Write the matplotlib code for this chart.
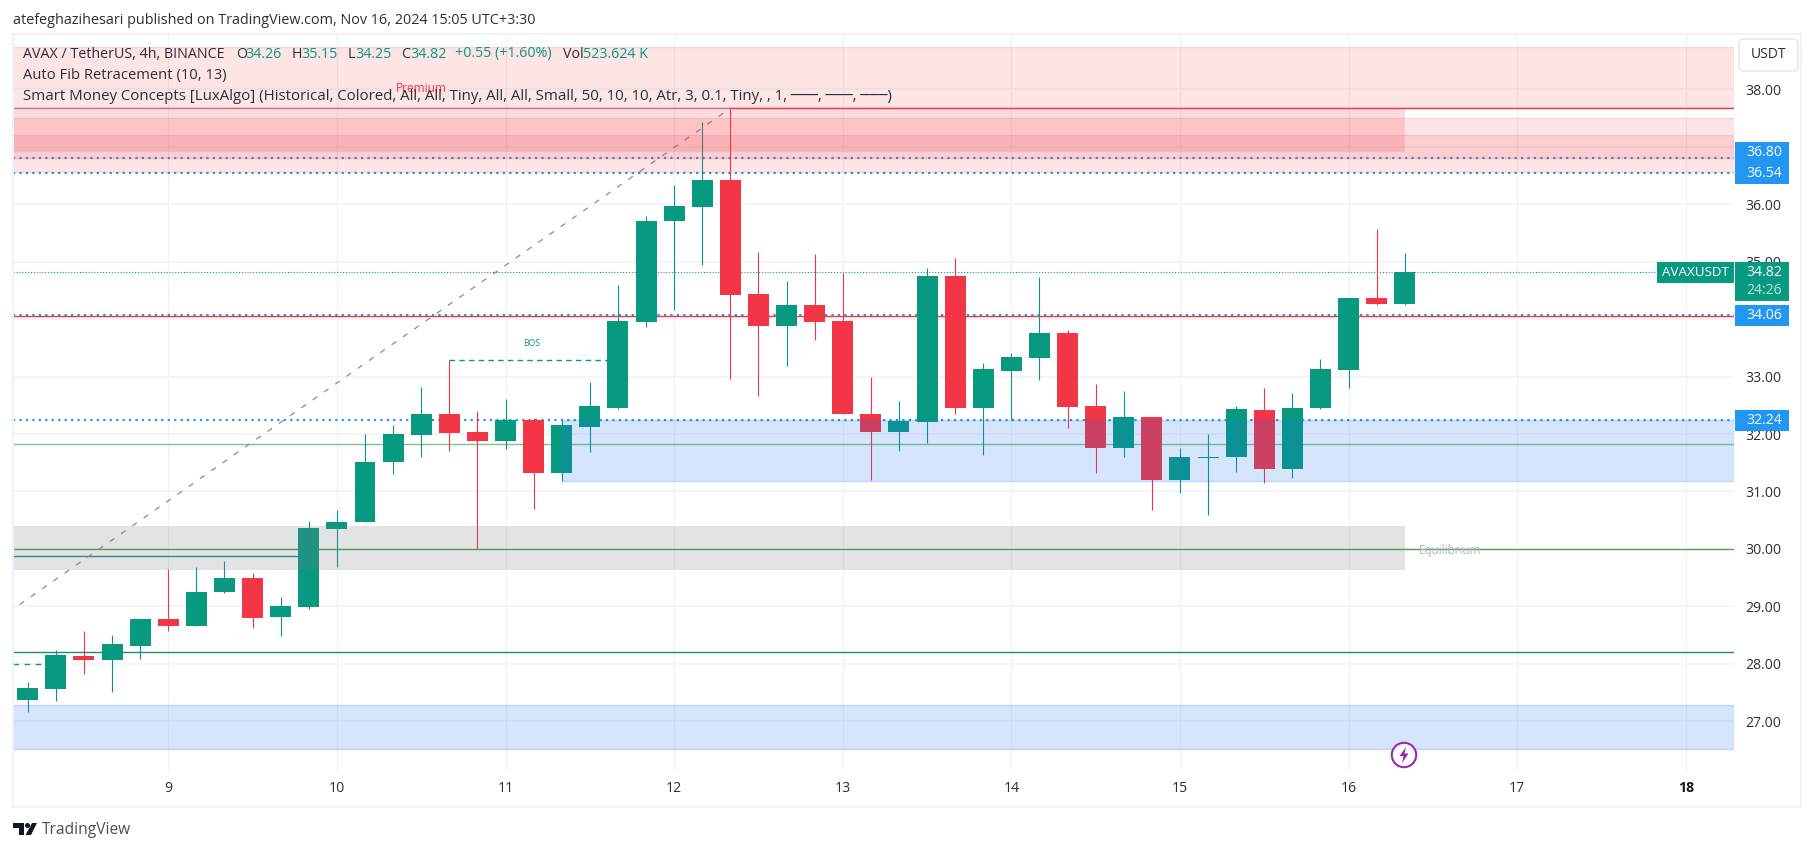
import numpy as np
import matplotlib
matplotlib.use("Agg")
import matplotlib.pyplot as plt
from matplotlib.patches import Rectangle, FancyBboxPatch, Circle, Polygon
from matplotlib.transforms import Affine2D

W, H = 1814, 851
plt.rcParams['font.family'] = ['Open Sans', 'DejaVu Sans']

GREEN = '#089981'
RED = '#F23645'
BLUE = '#2196F3'
DARK = '#2A2E39'

# --- data -------------------------------------------------------------
first_day = 8 + 1 / 6
bars_per_day = 6
opens = [27.37, 27.56, 28.14, 28.07, 28.31, 28.78, 28.66, 29.25, 29.49, 28.82,
         28.99, 30.35, 30.47, 31.51, 31.98, 32.35, 32.03, 31.88, 32.24, 31.32,
         32.12, 32.45, 33.95, 35.71, 35.95, 36.42, 34.44, 33.88, 34.25, 33.97,
         32.35, 32.03, 32.21, 34.75, 32.45, 33.10, 33.33, 33.76, 32.49, 31.76,
         32.30, 31.20, 31.58, 31.60, 32.42, 31.39, 32.45, 33.11, 34.37, 34.26]
highs = [27.68, 28.24, 28.57, 28.50, 28.78, 29.65, 29.69, 29.79, 29.58, 29.16,
         30.49, 30.68, 32.00, 32.16, 32.82, 33.28, 32.40, 32.61, 32.28, 32.24,
         32.90, 34.59, 35.79, 36.33, 37.43, 37.67, 35.17, 34.66, 35.13, 34.80,
         33.00, 32.57, 34.89, 35.06, 33.24, 33.41, 34.73, 33.81, 32.87, 32.75,
         32.30, 31.76, 32.00, 32.49, 32.80, 32.71, 33.30, 34.37, 35.57, 35.15]
lows = [27.16, 27.35, 27.82, 27.51, 28.08, 28.57, 28.66, 29.23, 28.62, 28.48,
        28.95, 29.69, 30.47, 31.30, 31.60, 31.70, 30.00, 31.74, 30.70, 31.18,
        31.69, 32.43, 33.86, 34.16, 34.94, 32.96, 32.66, 33.18, 33.64, 32.35,
        31.20, 31.70, 31.84, 32.35, 31.63, 32.24, 32.94, 32.10, 31.32, 31.60,
        30.68, 30.97, 30.59, 31.34, 31.15, 31.23, 32.43, 32.80, 34.25, 34.25]
closes = [27.58, 28.15, 28.07, 28.35, 28.78, 28.66, 29.25, 29.49, 28.80, 29.01,
          30.36, 30.47, 31.51, 32.00, 32.35, 32.02, 31.88, 32.24, 31.32, 32.16,
          32.49, 33.97, 35.71, 35.97, 36.42, 34.42, 33.88, 34.25, 33.95, 32.35,
          32.03, 32.23, 34.75, 32.45, 33.13, 33.34, 33.76, 32.47, 31.76, 32.30,
          31.20, 31.60, 31.60, 32.43, 31.39, 32.45, 33.13, 34.37, 34.26, 34.82]

x_min, x_max = 8.079, 18.286
y_min, y_max = 26.117, 38.945
day_ticks = [9, 10, 11, 12, 13, 14, 15, 16, 17, 18]
price_ticks = [27, 28, 29, 30, 31, 32, 33, 34, 35, 36, 37, 38]
end_day = 16.3333
zone_start_day = 11.3333

# zones: left, right, low, high
pink_left = [x_min, x_min, x_min]
pink_right = [x_max, x_max, x_max]
pink_low = [37.69, 36.56, 36.81]
pink_high = [38.73, 37.495, 37.20]
block_low, block_high = 36.91, 37.67
blue_left = [zone_start_day, x_min]
blue_right = [x_max, x_max]
blue_low = [31.19, 26.51]
blue_high = [32.24, 27.28]
grey_low, grey_high = 29.64, 30.40

dotted_levels = [36.80, 36.54, 34.07, 32.24]
last_price = 34.82
red_level = 34.05
top_level = 37.67
top_break_day = 12.3333
equilibrium_level = 30.00
level_a = 31.82
level_b = 28.20
short_level = 29.87
short_end_day = 9.8333
dash_level = 27.99
dash_end_day = 8.32
bos_level = 33.28
bos_start, bos_end = 10.6667, 11.60
fib_days = [8.118, 12.3333]
fib_prices = [29.03, 37.67]

# --- figure -----------------------------------------------------------
fig = plt.figure(figsize=(W / 100, H / 100), dpi=100, facecolor='white')
PX = Affine2D().scale(1, -1).translate(0, H)
ax_l, ax_r, ax_t, ax_b = 13, 1734, 35, 772
ax = fig.add_axes([ax_l / W, 1 - ax_b / H, (ax_r - ax_l) / W, (ax_b - ax_t) / H])
ax.set_xlim(x_min, x_max)
ax.set_ylim(y_min, y_max)
for s in ax.spines.values():
    s.set_visible(False)
ax.yaxis.tick_right()
ax.set_xticks(day_ticks)
ax.set_xticklabels([str(d) for d in day_ticks])
ax.set_yticks(price_ticks)
ax.set_yticklabels([f'{p:.2f}' for p in price_ticks])
ax.tick_params(axis='both', length=0, labelsize=10.1, labelcolor=DARK)
ax.tick_params(axis='y', pad=8.2)
ax.tick_params(axis='x', pad=6.8)
ax.get_xticklabels()[-1].set_color('#131722')
ax.get_xticklabels()[-1].set_fontweight('bold')
ax.set_axisbelow(True)
ax.grid(axis='y', color='#F3F4F6', lw=1.2, zorder=0)
ax.grid(axis='x', color='#F0F2F5', lw=0.9, zorder=0)

# levels (behind candles)
def level(y, x0, x1, color, lw=0.9, **kw):
    ax.plot([x0, x1], [y, y], color=color, lw=lw, zorder=2, solid_capstyle='butt', **kw)

for y in dotted_levels:
    level(y, x_min, x_max, BLUE, lw=1.6, linestyle=(0, (1, 1.9)), dash_capstyle='butt')
level(last_price, x_min, x_max, GREEN, lw=0.8, linestyle=(0, (1, 1.6)), dash_capstyle='butt')
level(red_level, x_min, x_max, RED, lw=1.0)
level(top_level, x_min, top_break_day, '#A88BAB', lw=1.0)
level(top_level, top_break_day, x_max, RED, lw=1.0)
level(equilibrium_level, x_min, x_max, '#4FA35A', lw=1.0)
level(level_a, x_min, x_max, '#7CC58A', lw=1.0)
level(level_b, x_min, x_max, '#1F8A70', lw=1.0)
level(short_level, x_min, short_end_day, '#2E8B78', lw=1.0)
level(dash_level, x_min, dash_end_day, GREEN, lw=1.0, linestyle=(0, (4, 4)), dash_capstyle='butt')
level(bos_level, bos_start, bos_end, GREEN, lw=1.0, linestyle=(0, (4, 3)), dash_capstyle='butt')
ax.plot(fib_days, fib_prices, color='#8A8D96', lw=0.9, linestyle=(0, (4.5, 6.5)), zorder=2)

# candles
xs = first_day + np.arange(len(opens)) / bars_per_day
o, h, l, c = map(np.array, (opens, highs, lows, closes))
colors = [GREEN if cc >= oo else RED for oo, cc in zip(o, c)]
ax.vlines(xs, l, h, colors=colors, lw=0.8, zorder=3, snap=True)
ax.bar(xs, np.abs(c - o), bottom=np.minimum(o, c), width=0.1245, color=colors,
       linewidth=0, zorder=3)

# zones (tint the candles)
for a, b, lo, hi in zip(pink_left, pink_right, pink_low, pink_high):
    ax.add_patch(Rectangle((a, lo), b - a, hi - lo, facecolor=(0.949, 0.212, 0.271, 0.13),
                           edgecolor=(0.949, 0.212, 0.271, 0.16), lw=0.9, zorder=4))
ax.add_patch(Rectangle((x_min, block_low), end_day - x_min, block_high - block_low,
                       facecolor=(0.949, 0.212, 0.271, 0.18), edgecolor='none', zorder=4))
for a, b, lo, hi in zip(blue_left, blue_right, blue_low, blue_high):
    ax.add_patch(Rectangle((a, lo), b - a, hi - lo, facecolor=(0.13, 0.45, 0.95, 0.18),
                           edgecolor=(0.13, 0.45, 0.95, 0.22), lw=1.0, zorder=4))
ax.add_patch(Rectangle((x_min, grey_low), end_day - x_min, grey_high - grey_low,
                       facecolor=(0.47, 0.482, 0.525, 0.21), edgecolor='none', zorder=4))

ax.text(10.50, 38.02, 'Premium', color=RED, fontsize=8.6, ha='center', va='center', zorder=5)
ax.text(16.60, 29.98, 'Equilibrium', color='#B2B5BE', fontsize=8.5, ha='center', va='center', zorder=5)
ax.text(11.157, 33.57, 'BOS', color=GREEN, fontsize=6.2, ha='center', va='center', zorder=5)

# --- chrome in image pixels -------------------------------------------
def rect(x0, y0, x1, y1, **kw):
    fig.add_artist(Rectangle((x0, y0), x1 - x0, y1 - y0, transform=PX, **kw))

def txt(x, y, s, color=DARK, size=10, ha='left', **kw):
    fig.text(x, y, s, transform=PX, color=color, fontsize=size, ha=ha, va='center', zorder=5, **kw)

rect(13, 34, 1800.5, 807, facecolor='none', edgecolor='#F0F3FA', lw=1.6)

txt(13, 20, 'atefeghazihesari published on TradingView.com, Nov 16, 2024 15:05 UTC+3:30',
    color='#2A2E39', size=10.4)

# legend
legend_parts = [(23, 'AVAX / TetherUS, 4h, BINANCE', DARK), (235.7, 'O', DARK), (245.7, '34.26', GREEN),
                (291.7, 'H', DARK), (301.7, '35.15', GREEN), (348, 'L', DARK), (355, '34.25', GREEN),
                (401, 'C', DARK), (410, '34.82', GREEN), (455, '+0.55 (+1.60%)', GREEN),
                (563, 'Vol', DARK), (583, '523.624 K', GREEN)]
for x, s, col in legend_parts:
    txt(x, 54, s, color=col, size=10.3)
txt(23, 75, 'Auto Fib Retracement (10, 13)', size=10.6)
txt(23, 97, 'Smart Money Concepts [LuxAlgo] (Historical, Colored, All, All, Tiny, All, All, Small, '
            '50, 10, 10, Atr, 3, 0.1, Tiny, , 1, ───, ───, ───)', size=10.8)

# price tags
for y0, y1, s in [(142, 163, '36.80'), (163, 184, '36.54'), (305, 326, '34.06'), (410, 431, '32.24')]:
    rect(1735, y0, 1789, y1, facecolor=BLUE, edgecolor='none', zorder=4)
    txt(1764, (y0 + y1) / 2, s, color='white', size=10.1, ha='center')
rect(1735, 262, 1789, 301, facecolor=GREEN, edgecolor='none', zorder=4)
txt(1764, 272.5, '34.82', color='white', size=10.1, ha='center')
txt(1764, 291, '24:26', color='#BFE3DB', size=10.1, ha='center')
rect(1657, 262, 1734, 283, facecolor=GREEN, edgecolor='none', zorder=4)
txt(1695.5, 272.5, 'AVAXUSDT', color='white', size=9.6, ha='center')

# USDT button
fig.add_artist(FancyBboxPatch((1743, 43), 51, 24, boxstyle='round,pad=4,rounding_size=5', transform=PX,
                              facecolor='white', edgecolor='#E6E8EF', lw=1.2, zorder=4))
txt(1768, 55, 'USDT', color=DARK, size=10, ha='center')

# TradingView logo
logo = '#131722'
rect(13, 823, 24, 828, facecolor=logo, edgecolor='none')
rect(19, 823, 24, 835, facecolor=logo, edgecolor='none')
fig.add_artist(Circle((27.5, 825.5), 2.5, transform=PX, facecolor=logo, edgecolor='none'))
fig.add_artist(Polygon([(32, 823), (37, 823), (31, 835), (25.5, 835)], closed=True, transform=PX,
                       facecolor=logo, edgecolor='none'))
txt(42, 830, 'TradingView', color='#4A4E59', size=11.2)

# lightning badge
fig.add_artist(Circle((1404, 755), 12.2, transform=PX, facecolor='white', edgecolor='#9C27B0', lw=1.5, zorder=4))
fig.add_artist(Polygon([(1406, 747), (1399.5, 756), (1403.5, 756), (1402, 763), (1408.5, 753.5), (1404.5, 753.5)],
                       closed=True, transform=PX, facecolor='#9C27B0', edgecolor='none', zorder=5))

fig.savefig('out.png', dpi=100)
